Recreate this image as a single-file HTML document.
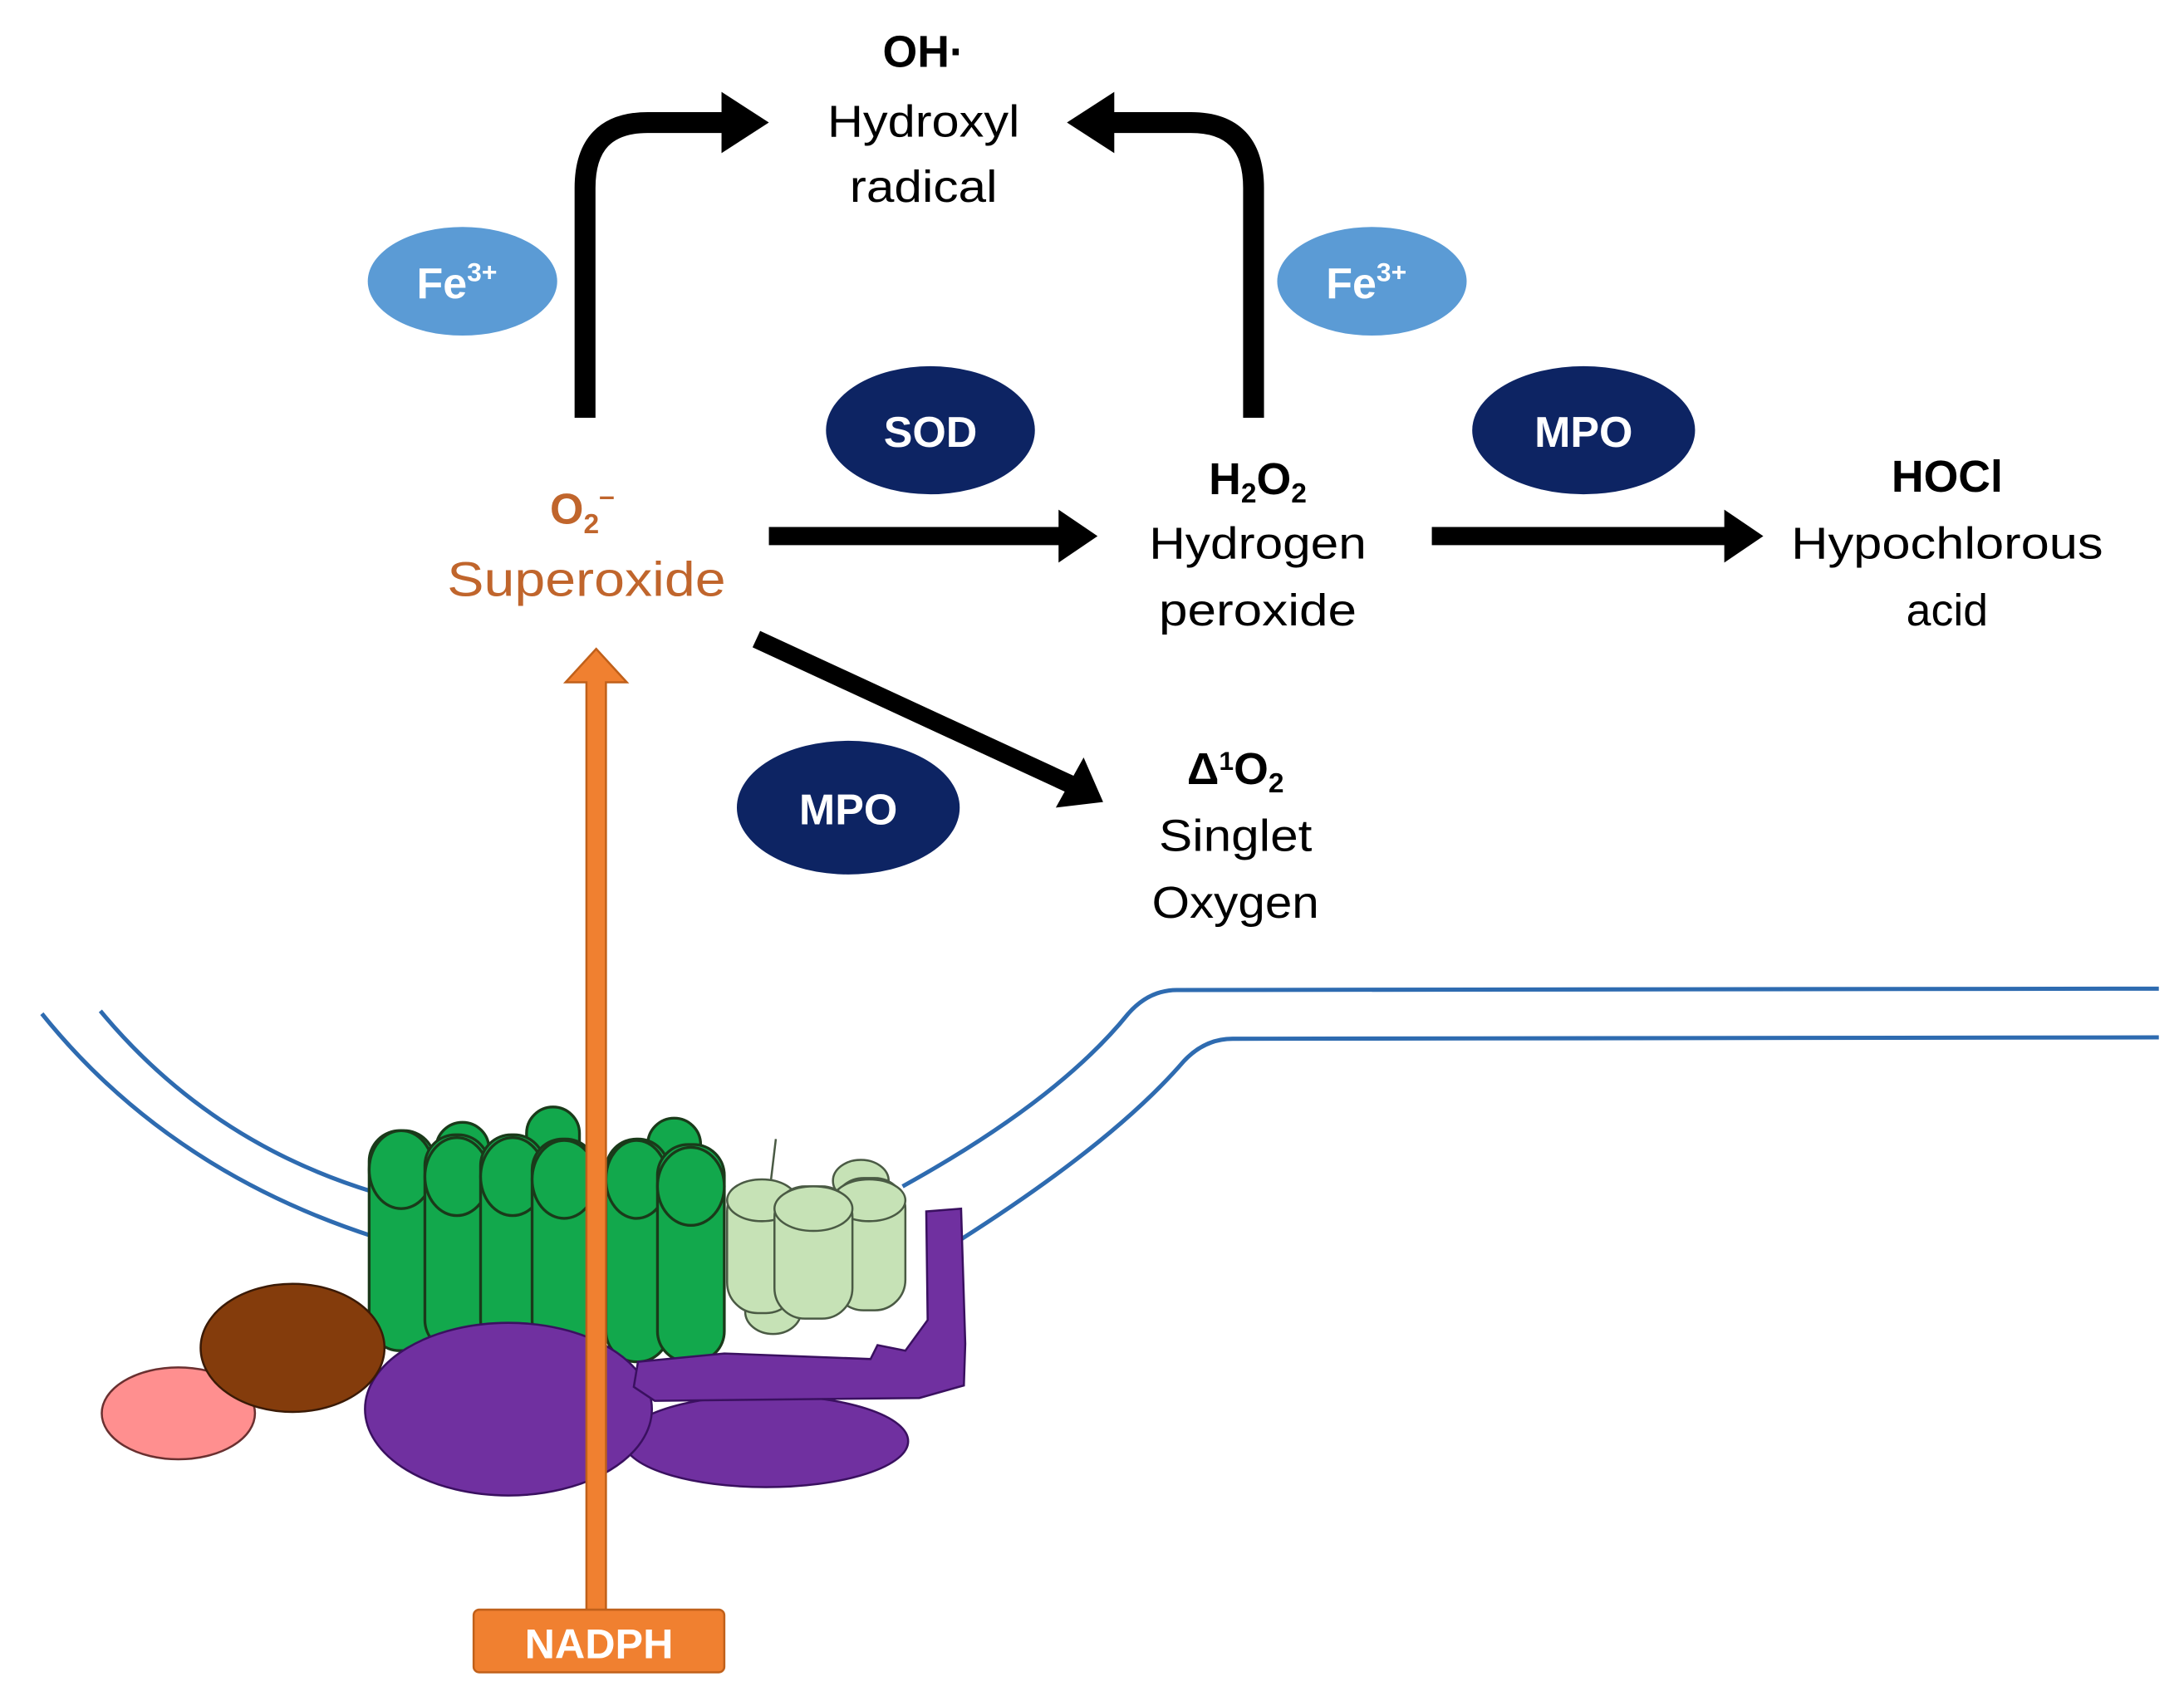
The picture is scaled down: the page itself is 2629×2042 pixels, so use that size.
<!DOCTYPE html>
<html><head><meta charset="utf-8"><style>
html,body{margin:0;padding:0;background:#fff}
svg{display:block}
text{font-family:"Liberation Sans",sans-serif;text-anchor:middle}
</style></head><body>
<svg width="2629" height="2042" viewBox="0 0 1568 1218" xmlns="http://www.w3.org/2000/svg">
<!-- membrane -->
<g fill="none" stroke="#2e6bb0" stroke-width="3">
<path d="M30,728 Q120,840 268,888"/>
<path d="M72,726 Q150,820 268,856"/>
<path d="M648,852 Q760,790 810,728 Q825,711 845,711 L1550,710"/>
<path d="M690,890 Q800,820 850,762 Q865,746 885,746 L1550,745"/>
</g>
<!-- green back cylinders -->
<g fill="#12a84c" stroke="#1a3a1a" stroke-width="2">
<rect x="313" y="806" width="38" height="150" rx="19"/>
<rect x="378" y="795" width="38" height="150" rx="19"/>
<rect x="465" y="803" width="38" height="150" rx="19"/>
<g><rect x="265" y="812" width="47" height="158" rx="22"/><ellipse cx="288" cy="840" rx="23" ry="28"/></g>
<g><rect x="305" y="815" width="46" height="155" rx="22"/><ellipse cx="328" cy="845" rx="23" ry="28"/></g>
<g><rect x="345" y="815" width="46" height="155" rx="22"/><ellipse cx="368" cy="845" rx="23" ry="28"/></g>
<g><rect x="382" y="818" width="46" height="152" rx="22"/><ellipse cx="405" cy="847" rx="23" ry="28"/></g>
<g><rect x="435" y="818" width="45" height="160" rx="22"/><ellipse cx="457" cy="847" rx="22" ry="28"/></g>
<g><rect x="472" y="822" width="48" height="156" rx="22"/><ellipse cx="496" cy="852" rx="24" ry="28"/></g>
</g>
<!-- light green -->
<g fill="#c6e2b6" stroke="#4a5a44" stroke-width="1.5">
<line x1="557" y1="818" x2="552" y2="860"/>
<ellipse cx="618" cy="848" rx="20" ry="15"/>
<ellipse cx="555" cy="942" rx="20" ry="16"/>
<rect x="522" y="848" width="50" height="95" rx="22"/><ellipse cx="547" cy="862" rx="25" ry="15"/>
<rect x="598" y="846" width="52" height="95" rx="22"/><ellipse cx="624" cy="862" rx="26" ry="15"/>
<rect x="556" y="852" width="56" height="95" rx="22"/><ellipse cx="584" cy="868" rx="28" ry="16"/>
</g>
<!-- purple -->
<g fill="#7030a0" stroke="#3a1060" stroke-width="1.5">
<ellipse cx="550" cy="1035" rx="102" ry="33"/>
<ellipse cx="365" cy="1012" rx="103" ry="62"/>
<path d="M458,978 L520,972 L625,976 L630,966 L650,970 L666,948 L665,870 L690,868 L693,965 L692,995 L660,1004 L470,1006 L455,996 Z"/>
</g>
<!-- brown and pink -->
<ellipse cx="128" cy="1015" rx="55" ry="33" fill="#ff8f8f" stroke="#6a3030" stroke-width="1.5"/>
<ellipse cx="210" cy="968" rx="66" ry="46" fill="#843c0c" stroke="#3a1a06" stroke-width="1.5"/>
<!-- orange arrow -->
<path d="M421,1160 L421,490 L406,490 L428,466 L450,490 L435,490 L435,1160 Z" fill="#f08030" stroke="#c0601a" stroke-width="1.5"/>
<rect x="340" y="1156" width="180" height="45" rx="4" fill="#f08030" stroke="#c0601a" stroke-width="1.5"/>
<text x="430" y="1191" font-size="30" font-weight="bold" fill="#fff">NADPH</text>
<!-- black arrows -->
<g fill="none" stroke="#000" stroke-width="15">
<path d="M420,300 L420,135 Q420,88 465,88 L522,88"/>
<path d="M900,300 L900,135 Q900,88 855,88 L795,88"/>
</g>
<polygon points="518,66 552,88 518,110" fill="#000"/>
<polygon points="800,66 766,88 800,110" fill="#000"/>
<line x1="552" y1="385" x2="762" y2="385" stroke="#000" stroke-width="13"/>
<polygon points="760,366 788,385 760,404" fill="#000"/>
<line x1="1028" y1="385" x2="1240" y2="385" stroke="#000" stroke-width="13"/>
<polygon points="1238,366 1266,385 1238,404" fill="#000"/>
<line x1="543" y1="459" x2="768" y2="563" stroke="#000" stroke-width="13"/>
<polygon points="778,544 792,576 758,580" fill="#000"/>
<!-- ellipses -->
<ellipse cx="332" cy="202" rx="68" ry="39" fill="#5b9bd5"/>
<ellipse cx="985" cy="202" rx="68" ry="39" fill="#5b9bd5"/>
<text x="328" y="214" font-size="31" font-weight="bold" fill="#fff">Fe<tspan font-size="19" dy="-12">3+</tspan></text>
<text x="981" y="214" font-size="31" font-weight="bold" fill="#fff">Fe<tspan font-size="19" dy="-12">3+</tspan></text>
<ellipse cx="668" cy="309" rx="75" ry="46" fill="#0d2463"/>
<ellipse cx="1137" cy="309" rx="80" ry="46" fill="#0d2463"/>
<ellipse cx="609" cy="580" rx="80" ry="48" fill="#0d2463"/>
<text x="668" y="321" font-size="31" font-weight="bold" fill="#fff">SOD</text>
<text x="1137" y="321" font-size="31" font-weight="bold" fill="#fff">MPO</text>
<text x="609" y="592" font-size="31" font-weight="bold" fill="#fff">MPO</text>
<!-- labels -->
<g font-size="32" fill="#000" lengthAdjust="spacingAndGlyphs">
<text x="663" y="48" font-weight="bold">OH·</text>
<text x="663" y="98" textLength="138" lengthAdjust="spacingAndGlyphs">Hydroxyl</text>
<text x="663" y="145" textLength="106" lengthAdjust="spacingAndGlyphs">radical</text>
<text x="903" y="355" font-weight="bold">H<tspan font-size="20" dy="6">2</tspan><tspan dy="-6">O</tspan><tspan font-size="20" dy="6">2</tspan></text>
<text x="903" y="401" textLength="156" lengthAdjust="spacingAndGlyphs">Hydrogen</text>
<text x="903" y="449" textLength="142" lengthAdjust="spacingAndGlyphs">peroxide</text>
<text x="1398" y="353" font-weight="bold">HOCl</text>
<text x="1398" y="401" textLength="224" lengthAdjust="spacingAndGlyphs">Hypochlorous</text>
<text x="1398" y="449">acid</text>
<text x="887" y="563" font-weight="bold">Δ<tspan font-size="19" dy="-10">1</tspan><tspan dy="10">O</tspan><tspan font-size="20" dy="6">2</tspan></text>
<text x="887" y="611" textLength="110" lengthAdjust="spacingAndGlyphs">Singlet</text>
<text x="887" y="659" textLength="120" lengthAdjust="spacingAndGlyphs">Oxygen</text>
</g>
<g fill="#c0652c">
<text x="418" y="376" font-size="31" font-weight="bold">O<tspan font-size="20" dy="7">2</tspan><tspan font-size="20" dy="-20">–</tspan></text>
<text x="421" y="428" font-size="35" textLength="200" lengthAdjust="spacingAndGlyphs">Superoxide</text>
</g>
</svg>
</body></html>
